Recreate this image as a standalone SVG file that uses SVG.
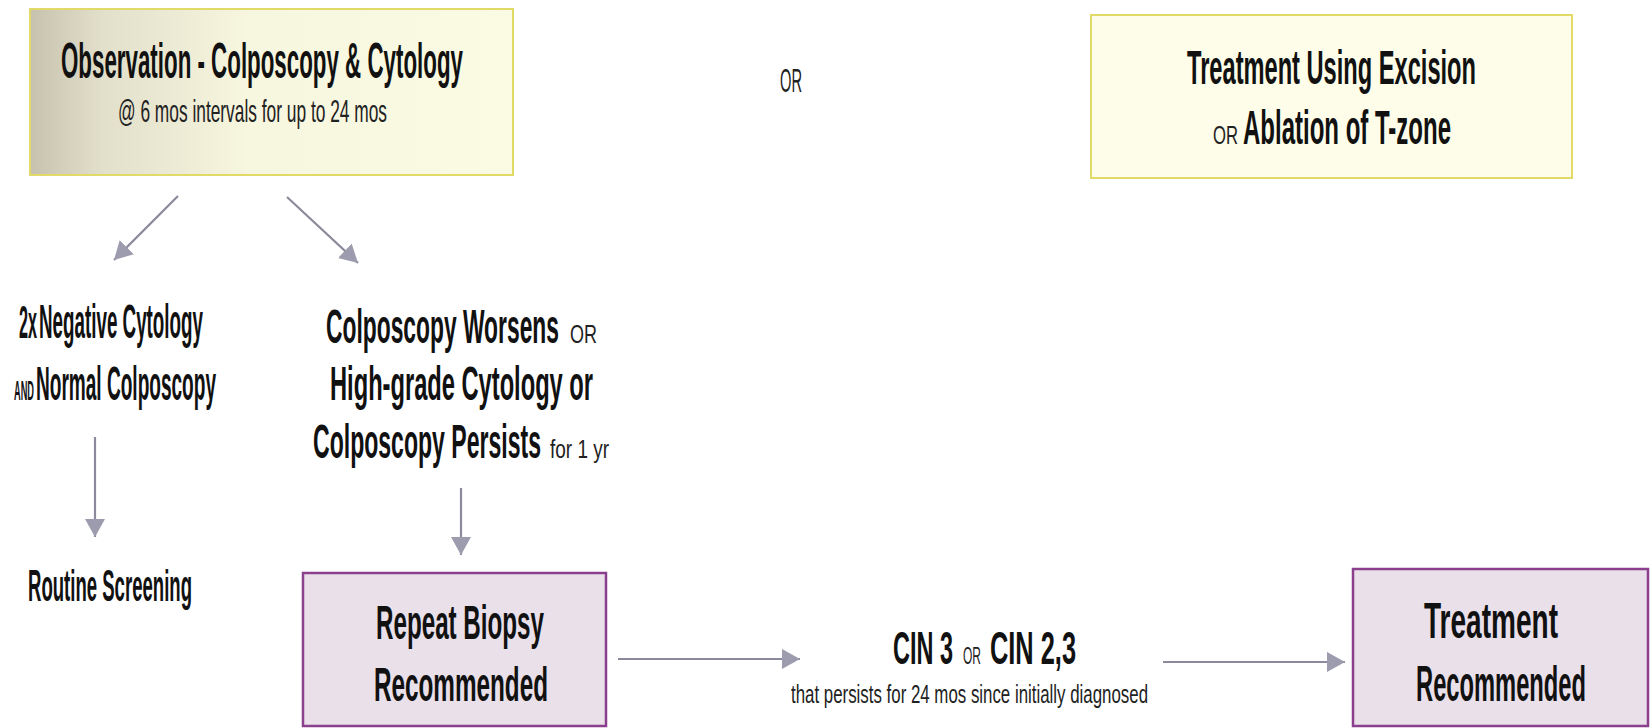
<svg xmlns="http://www.w3.org/2000/svg" width="1651" height="728" viewBox="0 0 1651 728">
  <defs>
    <linearGradient id="obsFill" x1="0" y1="0" x2="1" y2="0">
      <stop offset="0" stop-color="#c6c2ae"/>
      <stop offset="0.15" stop-color="#e2dfca"/>
      <stop offset="0.45" stop-color="#f7f6de"/>
      <stop offset="1" stop-color="#fbfbe4"/>
    </linearGradient>
    <marker id="head" viewBox="0 0 18 20" refX="18" refY="10" markerWidth="18" markerHeight="20" markerUnits="userSpaceOnUse" orient="auto">
      <path d="M0,0 L18,10 L0,20 Z" fill="#9c9cae"/>
    </marker>
    <style>
      text { font-family: "Liberation Sans", Arial, sans-serif; }
      .bold { font-weight: bold; fill: #111; }
      .reg { font-weight: normal; fill: #222; }
      .conn { stroke: #8a8a9c; stroke-width: 2.2; fill: none; marker-end: url(#head); }
      .yellowBox { stroke: #e2da68; stroke-width: 2; }
      .purpleBox { fill: #e9e0ea; stroke: #8b3f8d; stroke-width: 2.5; }
    </style>
  </defs>

  <rect width="1651" height="728" fill="#ffffff"/>

  <!-- connectors -->
  <g id="connectors">
    <line class="conn" x1="178" y1="196" x2="114" y2="260"/>
    <line class="conn" x1="287" y1="197" x2="358" y2="263"/>
    <line class="conn" x1="95" y1="437" x2="95" y2="537"/>
    <line class="conn" x1="461" y1="488" x2="461" y2="555"/>
    <line class="conn" x1="618" y1="659" x2="800" y2="659"/>
    <line class="conn" x1="1163" y1="662" x2="1345" y2="662"/>
  </g>

  <!-- observation box (condensed lettering: horizontal scale on each line) -->
  <g id="observation">
    <rect class="yellowBox" x="30" y="9" width="483" height="166" fill="url(#obsFill)"/>
    <text class="bold" font-size="50" transform="translate(61,78) scale(0.4466,1)" textLength="900" lengthAdjust="spacingAndGlyphs">Observation - Colposcopy &amp; Cytology</text>
    <text class="reg" font-size="31" transform="translate(118,122) scale(0.559,1)" textLength="481.2" lengthAdjust="spacingAndGlyphs">@ 6 mos intervals for up to 24 mos</text>
  </g>

  <!-- alternative -->
  <g id="or-label">
    <text class="reg" font-size="34" transform="translate(780,92) scale(0.4314,1)" textLength="51" lengthAdjust="spacingAndGlyphs">OR</text>
  </g>

  <!-- treatment option box -->
  <g id="treatment-option">
    <rect class="yellowBox" x="1091" y="15" width="481" height="163" fill="#fdfde9"/>
    <text class="bold" font-size="49" transform="translate(1187,84) scale(0.4802,1)" textLength="601.8" lengthAdjust="spacingAndGlyphs">Treatment Using Excision</text>
    <text class="reg" font-size="26" transform="translate(1213,144) scale(0.641,1)" textLength="39" lengthAdjust="spacingAndGlyphs">OR</text>
    <text class="bold" font-size="49" transform="translate(1243,144) scale(0.4867,1)" textLength="427.4" lengthAdjust="spacingAndGlyphs">Ablation of T-zone</text>
  </g>

  <!-- negative branch -->
  <g id="negative">
    <text class="bold" font-size="46" transform="translate(19,338) scale(0.3516,1)" textLength="51.2" lengthAdjust="spacingAndGlyphs">2x</text>
    <text class="bold" font-size="48" transform="translate(39,338) scale(0.3916,1)" textLength="418.8" lengthAdjust="spacingAndGlyphs">Negative Cytology</text>
    <text class="bold" font-size="27" transform="translate(14,400) scale(0.342,1)" textLength="58.5" lengthAdjust="spacingAndGlyphs">AND</text>
    <text class="bold" font-size="48" transform="translate(36,400) scale(0.397,1)" textLength="453.4" lengthAdjust="spacingAndGlyphs">Normal Colposcopy</text>
  </g>

  <!-- persistent / worsening branch -->
  <g id="worsens">
    <text class="bold" font-size="48" transform="translate(326,343) scale(0.4747,1)" textLength="490.8" lengthAdjust="spacingAndGlyphs">Colposcopy Worsens</text>
    <text class="reg" font-size="26" transform="translate(570,343) scale(0.6923,1)" textLength="39" lengthAdjust="spacingAndGlyphs">OR</text>
    <text class="bold" font-size="48" transform="translate(330,400) scale(0.4931,1)" textLength="533.4" lengthAdjust="spacingAndGlyphs">High-grade Cytology or</text>
    <text class="bold" font-size="48" transform="translate(313,458) scale(0.4802,1)" textLength="474.8" lengthAdjust="spacingAndGlyphs">Colposcopy Persists</text>
    <text class="reg" font-size="26" transform="translate(550,458) scale(0.7293,1)" textLength="80.9" lengthAdjust="spacingAndGlyphs">for 1 yr</text>
  </g>

  <!-- routine screening -->
  <g id="routine">
    <text class="bold" font-size="44" transform="translate(28,601) scale(0.4219,1)" textLength="388.7" lengthAdjust="spacingAndGlyphs">Routine Screening</text>
  </g>

  <!-- repeat biopsy -->
  <g id="repeat-biopsy">
    <rect class="purpleBox" x="303" y="573" width="303" height="153"/>
    <text class="bold" font-size="48" transform="translate(376,639) scale(0.5039,1)" textLength="333.4" lengthAdjust="spacingAndGlyphs">Repeat Biopsy</text>
    <text class="bold" font-size="48" transform="translate(374,701) scale(0.5064,1)" textLength="343.6" lengthAdjust="spacingAndGlyphs">Recommended</text>
  </g>

  <!-- CIN result -->
  <g id="cin">
    <text class="bold" font-size="46" transform="translate(893,664) scale(0.5102,1)" textLength="117.6" lengthAdjust="spacingAndGlyphs">CIN 3</text>
    <text class="reg" font-size="24" transform="translate(963,664) scale(0.5,1)" textLength="36" lengthAdjust="spacingAndGlyphs">OR</text>
    <text class="bold" font-size="46" transform="translate(990,664) scale(0.5516,1)" textLength="155.9" lengthAdjust="spacingAndGlyphs">CIN 2,3</text>
    <text class="reg" font-size="26" transform="translate(791,703) scale(0.6484,1)" textLength="550.6" lengthAdjust="spacingAndGlyphs">that persists for 24 mos since initially diagnosed</text>
  </g>

  <!-- treatment recommended -->
  <g id="treatment-recommended">
    <rect class="purpleBox" x="1353" y="569" width="295" height="157"/>
    <text class="bold" font-size="50" transform="translate(1424,638) scale(0.5544,1)" textLength="241.7" lengthAdjust="spacingAndGlyphs">Treatment</text>
    <text class="bold" font-size="50" transform="translate(1416,701) scale(0.475,1)" textLength="357.9" lengthAdjust="spacingAndGlyphs">Recommended</text>
  </g>
</svg>
